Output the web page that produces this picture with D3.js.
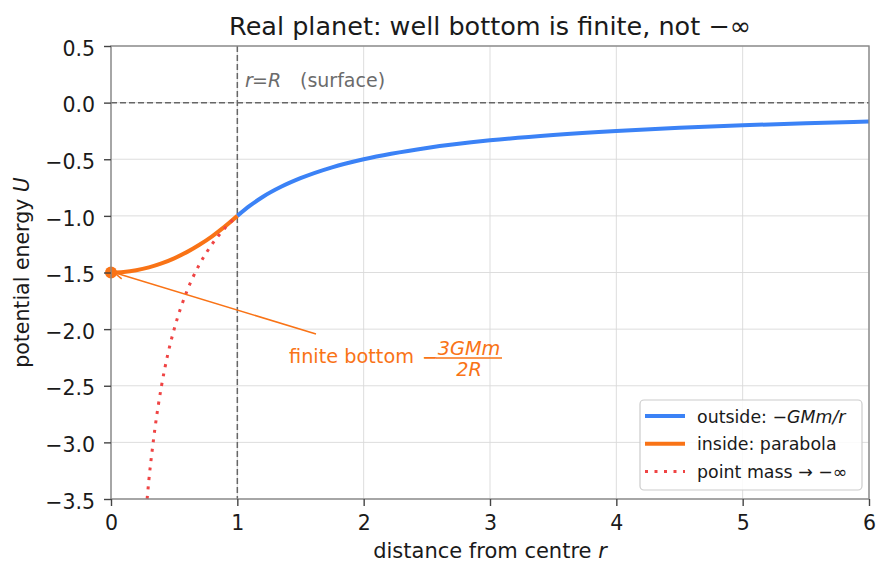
<!DOCTYPE html>
<html>
<head>
<meta charset="utf-8">
<script src="https://cdn.jsdelivr.net/npm/d3@7"></script>
<style>
  body { margin: 0; background: #fff; }
  svg { font-family: "DejaVu Sans", sans-serif; }
</style>
</head>
<body>
<svg id="chart" width="891" height="575"></svg>
<script>
// values
const outsideR = [1, 1.1, 1.2, 1.35, 1.5, 1.75, 2, 2.5, 3, 3.5, 4, 4.5, 5, 5.5, 6];
const outsideU = [-1, -0.91, -0.833, -0.741, -0.667, -0.571, -0.5, -0.4, -0.333, -0.286, -0.25, -0.222, -0.2, -0.182, -0.167];
const insideR = [0, 0.1, 0.2, 0.3, 0.4, 0.5, 0.6, 0.7, 0.8, 0.9, 1];
const insideU = [-1.5, -1.495, -1.48, -1.455, -1.42, -1.375, -1.32, -1.255, -1.18, -1.095, -1.0];
const pointR = [0.286, 0.3, 0.325, 0.35, 0.4, 0.45, 0.5, 0.6, 0.7, 0.8, 0.9, 1];
const pointU = [-3.5, -3.33, -3.08, -2.86, -2.5, -2.22, -2, -1.667, -1.429, -1.25, -1.111, -1];
const xTicks = [0, 1, 2, 3, 4, 5, 6];
const yTicks = [0.5, 0, -0.5, -1, -1.5, -2, -2.5, -3, -3.5];

const BLUE = "#3b82f6", ORANGE = "#f97316", RED = "#ef4444", GREY = "#666";
const M = {l: 111, r: 869, t: 46, b: 499};
const TXT = "#1a1a1a";

const svg = d3.select("#chart");
const x = d3.scaleLinear().domain([0, 6]).range([M.l, M.r]);
const y = d3.scaleLinear().domain([-3.5, 0.5]).range([M.b, M.t]);

// grid
svg.append("g").selectAll("line").data(xTicks).join("line")
  .attr("x1", d => x(d)).attr("x2", d => x(d)).attr("y1", M.t).attr("y2", M.b)
  .attr("stroke", "#d9d9d9").attr("stroke-width", 0.9);
svg.append("g").selectAll("line").data(yTicks).join("line")
  .attr("x1", M.l).attr("x2", M.r).attr("y1", d => y(d)).attr("y2", d => y(d))
  .attr("stroke", "#d9d9d9").attr("stroke-width", 0.9);

// reference lines
svg.append("line").attr("x1", M.l).attr("x2", M.r).attr("y1", y(0)).attr("y2", y(0))
  .attr("stroke", GREY).attr("stroke-width", 1.5).attr("stroke-dasharray", "6 3");
svg.append("line").attr("x1", x(1)).attr("x2", x(1)).attr("y1", M.t).attr("y2", M.b)
  .attr("stroke", GREY).attr("stroke-width", 1.5).attr("stroke-dasharray", "6 3");

const surf = svg.append("g").attr("fill", "#6b6b6b").attr("font-size", 19);
surf.append("text").attr("x", 245).attr("y", 87).attr("font-style", "italic").text("r");
surf.append("text").attr("x", 252).attr("y", 87).text("=");
surf.append("text").attr("x", 268).attr("y", 87).attr("font-style", "italic").text("R");
surf.append("text").attr("x", 300).attr("y", 87).text("(surface)");

const line = d3.line().x(d => x(d[0])).y(d => y(d[1])).curve(d3.curveMonotoneX);
const zip = (a, b) => a.map((v, i) => [v, b[i]]);

svg.append("path").datum(zip(outsideR, outsideU)).attr("d", line)
  .attr("fill", "none").attr("stroke", BLUE).attr("stroke-width", 4);
svg.append("path").datum(zip(insideR, insideU)).attr("d", line)
  .attr("fill", "none").attr("stroke", ORANGE).attr("stroke-width", 4);
svg.append("path").datum(zip(pointR, pointU)).attr("d", line)
  .attr("fill", "none").attr("stroke", RED).attr("stroke-width", 3)
  .attr("stroke-dasharray", "3 6.5");

// bottom marker
svg.append("circle").attr("cx", x(0)).attr("cy", y(-1.5)).attr("r", 6).attr("fill", ORANGE);

// annotation arrow
const ax0 = 316, ay0 = 334, ax1 = x(0) + 3, ay1 = y(-1.5);
svg.append("line").attr("x1", ax0).attr("y1", ay0).attr("x2", ax1).attr("y2", ay1)
  .attr("stroke", ORANGE).attr("stroke-width", 1.5);
const ang = Math.atan2(ay0 - ay1, ax0 - ax1);
[0.4, -0.4].forEach(da => {
  svg.append("line").attr("x1", ax1).attr("y1", ay1)
    .attr("x2", ax1 + 10 * Math.cos(ang + da)).attr("y2", ay1 + 10 * Math.sin(ang + da))
    .attr("stroke", ORANGE).attr("stroke-width", 1.5);
});

const ann = svg.append("g").attr("fill", ORANGE).attr("font-size", 19.3);
ann.append("text").attr("x", 289).attr("y", 363).text("finite bottom");
ann.append("text").attr("x", 422).attr("y", 364).text("−");
ann.append("text").attr("x", 469).attr("y", 355).attr("text-anchor", "middle")
  .attr("font-style", "italic").text("3GMm");
ann.append("line").attr("x1", 436).attr("x2", 502).attr("y1", 358).attr("y2", 358)
  .attr("stroke", ORANGE).attr("stroke-width", 1.3);
ann.append("text").attr("x", 469).attr("y", 376).attr("text-anchor", "middle")
  .attr("font-style", "italic").text("2R");

// frame
svg.append("rect").attr("x", M.l).attr("y", M.t).attr("width", M.r - M.l).attr("height", M.b - M.t)
  .attr("fill", "none").attr("stroke", "#888").attr("stroke-width", 1.4);

// axes
const fmtY = d => (d < 0 ? "−" : "") + Math.abs(d).toFixed(1);
const xAxis = svg.append("g").attr("transform", `translate(0,${M.b})`)
  .call(d3.axisBottom(x).tickValues(xTicks).tickSize(7).tickPadding(9).tickFormat(d3.format("d")));
const yAxis = svg.append("g").attr("transform", `translate(${M.l},0)`)
  .call(d3.axisLeft(y).tickValues(yTicks).tickSize(7).tickPadding(9).tickFormat(fmtY));
[xAxis, yAxis].forEach(g => {
  g.select(".domain").remove();
  g.selectAll(".tick line").attr("stroke", "#444").attr("stroke-width", 1.4);
  g.selectAll(".tick text").attr("font-size", 20.5).attr("fill", TXT)
    .attr("font-family", "DejaVu Sans, sans-serif");
});
yAxis.selectAll(".tick text").attr("dy", "0.45em");

// labels
svg.append("text").attr("x", (M.l + M.r) / 2).attr("y", 35).attr("text-anchor", "middle")
  .attr("font-size", 25.5).attr("fill", TXT).text("Real planet: well bottom is finite, not −∞");
const xl = svg.append("text").attr("x", (M.l + M.r) / 2).attr("y", 558).attr("text-anchor", "middle")
  .attr("font-size", 21).attr("fill", TXT);
xl.append("tspan").text("distance from centre ");
xl.append("tspan").attr("font-style", "italic").text("r");
const yl = svg.append("text").attr("transform", `translate(29,${(M.t + M.b) / 2}) rotate(-90)`)
  .attr("text-anchor", "middle").attr("font-size", 20.5).attr("fill", TXT);
yl.append("tspan").text("potential energy ");
yl.append("tspan").attr("font-style", "italic").text("U");

// legend
const lg = svg.append("g");
lg.append("rect").attr("x", 640).attr("y", 400).attr("width", 222).attr("height", 90).attr("rx", 4)
  .attr("fill", "#fff").attr("fill-opacity", 0.85).attr("stroke", "#cccccc").attr("stroke-width", 1.2);
const items = [
  {parts: [["outside: −", ""], ["GMm/r", "italic"]], color: BLUE, w: 4, dash: null},
  {parts: [["inside: parabola", ""]], color: ORANGE, w: 4, dash: null},
  {parts: [["point mass → −∞", ""]], color: RED, w: 3, dash: "3 6.5"}
];
items.forEach((it, i) => {
  const yy = 416 + i * 27.8;
  lg.append("line").attr("x1", 645).attr("x2", 685).attr("y1", yy).attr("y2", yy)
    .attr("stroke", it.color).attr("stroke-width", it.w).attr("stroke-dasharray", it.dash);
  const t = lg.append("text").attr("x", 697).attr("y", yy + 6.5).attr("font-size", 17.4).attr("fill", TXT);
  it.parts.forEach(p => t.append("tspan").attr("font-style", p[1] || null).text(p[0]));
});
</script>
</body>
</html>
